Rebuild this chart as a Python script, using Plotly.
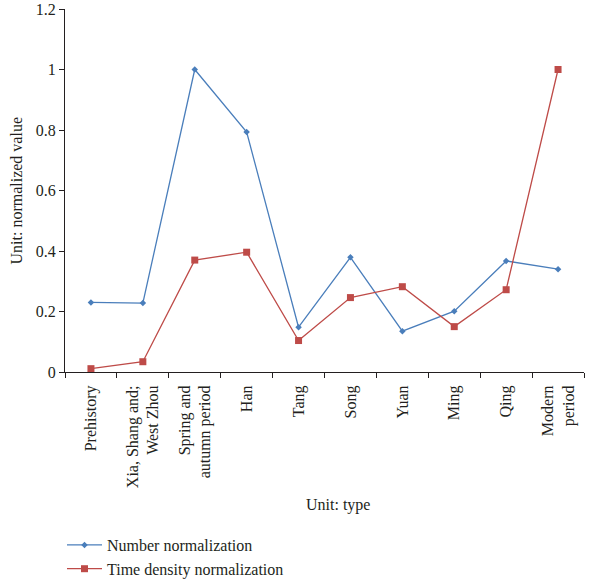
import plotly.graph_objects as go

categories = ["Prehistory", "Xia, Shang and;<br>West Zhou", "Spring and<br>autumn period", "Han",
              "Tang", "Song", "Yuan", "Ming", "Qing", "Modern<br>period"]
number_norm = [0.230, 0.228, 1.0, 0.793, 0.148, 0.379, 0.135, 0.201, 0.367, 0.340]
time_density_norm = [0.011, 0.034, 0.370, 0.396, 0.104, 0.246, 0.282, 0.150, 0.272, 1.0]
y_ticks = [0, 0.2, 0.4, 0.6, 0.8, 1, 1.2]
y_ticklabels = ["0", "0.2", "0.4", "0.6", "0.8", "1", "1.2"]

FONT = "Liberation Serif"
TXT = "#231f20"
AX = "#231f20"
BLUE = "#4A7EBB"
RED = "#BE4B48"

fig = go.Figure()
fig.add_trace(go.Scatter(x=categories, y=number_norm, mode="lines+markers",
                         name="Number normalization", legendgroup="a",
                         line=dict(color=BLUE, width=1.3),
                         marker=dict(symbol="diamond", size=5, color=BLUE)))
fig.add_trace(go.Scatter(x=categories, y=time_density_norm, mode="lines+markers",
                         name="Time density normalization", legendgroup="b",
                         line=dict(color=RED, width=1.3),
                         marker=dict(symbol="square", size=7, color=RED)))

fig.update_layout(
    width=610, height=582,
    margin=dict(l=65, r=26, t=9, b=210, autoexpand=False),
    plot_bgcolor="white", paper_bgcolor="white",
    font=dict(family=FONT, size=16, color=TXT),
    showlegend=True,
    legend=dict(x=62/610, y=(582-528)/582, xref="container", yref="container",
                xanchor="left", yanchor="top",
                orientation="v", tracegroupgap=0, itemwidth=35,
                font=dict(family=FONT, size=16, color=TXT),
                bgcolor="rgba(0,0,0,0)"),
    xaxis=dict(type="category", tickangle=-90, tickson="boundaries",
               ticks="outside", ticklen=5, tickcolor=AX, automargin=False,
               ticklabelstandoff=6,
               showline=True, linecolor=AX, linewidth=1.2,
               showgrid=False, zeroline=False,
               tickfont=dict(family=FONT, size=16, color=TXT),
               range=[-0.5, 9.5]),
    yaxis=dict(range=[0, 1.2], tickvals=y_ticks, ticktext=y_ticklabels,
               ticks="outside", ticklen=5, tickcolor=AX, automargin=False,
               showline=True, linecolor=AX, linewidth=1.2,
               showgrid=False, zeroline=False,
               tickfont=dict(family=FONT, size=16, color=TXT)),
    annotations=[
        dict(text="Unit: type", x=0.526, y=-0.366, xref="paper", yref="paper",
             xanchor="center", yanchor="middle", showarrow=False,
             font=dict(family=FONT, size=16, color=TXT)),
        dict(text="Unit: normalized value", x=-0.0925, y=0.5, xref="paper", yref="paper",
             xanchor="center", yanchor="middle", showarrow=False, textangle=-90,
             font=dict(family=FONT, size=16, color=TXT)),
    ],
)

fig.write_html("out.html", post_script="document.body.style.margin='0';",
               config={"displayModeBar": False})
